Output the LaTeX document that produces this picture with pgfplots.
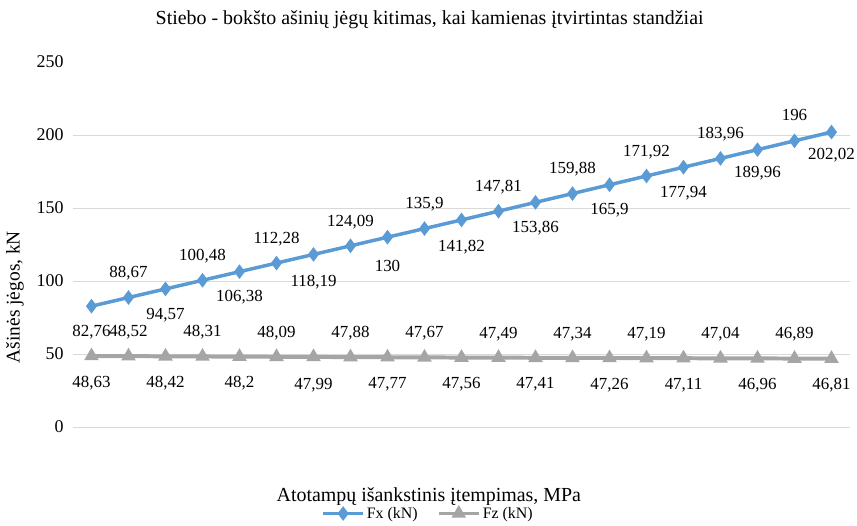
\documentclass[border=0pt]{standalone}
\usepackage{pgfplots}
\pgfplotsset{compat=1.18}
\usepackage{pgfplotstable}
\usepackage{fontspec}
\setmainfont{Liberation Serif}
\usetikzlibrary{calc}

\definecolor{fxblue}{RGB}{91,155,213}
\definecolor{fzgray}{RGB}{165,165,165}
\definecolor{gridgray}{RGB}{217,217,217}

% idx, value, label text, vertical label offset (pt)
\pgfplotstableread{
idx fx    fxl    fxd fz    fzl   fzd
0   82.76 82,76  -26 48.63 48,63 -27
1   88.67 88,67  24  48.52 48,52 24
2   94.57 94,57  -26 48.42 48,42 -27
3   100.48 100,48 24 48.31 48,31 24
4   106.38 106,38 -26 48.20 48,2 -27
5   112.28 112,28 24 48.09 48,09 24
6   118.19 118,19 -28 47.99 47,99 -28
7   124.09 124,09 24 47.88 47,88 24
8   130.00 130    -29 47.77 47,77 -27
9   135.90 135,9  24 47.67 47,67 24
10  141.82 141,82 -27 47.56 47,56 -27
11  147.81 147,81 24 47.49 47,49 24
12  153.86 153,86 -26 47.41 47,41 -27
13  159.88 159,88 24 47.34 47,34 24
14  165.90 165,9  -26 47.26 47,26 -27
15  171.92 171,92 24 47.19 47,19 24
16  177.94 177,94 -26 47.11 47,11 -27
17  183.96 183,96 24 47.04 47,04 24
18  189.96 189,96 -24 46.96 46,96 -27
19  196.00 196    26 46.89 46,89 24
20  202.02 202,02 -23 46.81 46,81 -27
}\data

\begin{document}
\begin{tikzpicture}
\begin{axis}[
  scale only axis,
  width=777bp, height=365bp,
  xmin=-0.5, xmax=20.5,
  ymin=0, ymax=250,
  xtick=\empty,
  ytick={0,50,...,200},
  extra y ticks={250},
  extra y tick style={grid=none},
  ymajorgrids,
  grid style={gridgray, line width=0.8pt},
  axis line style={draw=none},
  major tick length=0pt,
  /pgf/number format/assume math mode=true,
  tick label style={font=\fontsize{18}{20}\selectfont},
  yticklabel style={xshift=-6bp},
  every axis title shift=0pt,
  title={Stiebo - bokšto ašinių jėgų kitimas, kai kamienas įtvirtintas standžiai},
  title style={at={(axis description cs:0.459,1.115)}, anchor=center, font=\fontsize{20}{24}\selectfont},
  xlabel={Atotampų išankstinis įtempimas, MPa},
  xlabel style={at={(axis description cs:0.458,-0.19)}, anchor=center, font=\fontsize{20}{24}\selectfont},
  ylabel={Ašinės jėgos, kN},
  ylabel style={at={(axis description cs:-0.0746,0.356)}, anchor=center, font=\fontsize{19.5}{23}\selectfont},
  legend style={at={(0.457,-0.237)}, anchor=center, draw=none, legend columns=2,
    font=\fontsize{16}{18}\selectfont, inner sep=0pt,
    /tikz/every even column/.append style={column sep=17bp}},
  legend image code/.code={\draw[#1, mark repeat=2, mark phase=2]
    plot coordinates {(0bp,0bp) (20bp,0bp) (40bp,0bp)};},
  nodes near coords,
  point meta=explicit symbolic,
  nodes near coords style={font=\fontsize{17}{19}\selectfont, text=black, anchor=center, yshift=\ldy pt},
]
\coordinate (bl) at (rel axis cs:0,0);
\coordinate (tr) at (rel axis cs:1,1);

\addplot[fxblue, line width=3.5pt, mark=diamond*, mark size=4.5pt,
  visualization depends on={\thisrow{fxd} \as \ldy}]
  table[x=idx, y=fx, meta=fxl] {\data};
\addlegendentry{Fx (kN)}

\addplot[fzgray, line width=4pt, mark=triangle*, mark size=4.5pt,
  visualization depends on={\thisrow{fzd} \as \ldy}]
  table[x=idx, y=fz, meta=fzl] {\data};
\addlegendentry{Fz (kN)}
\end{axis}
\pgfresetboundingbox
\path ($(bl)+(-73bp,-99bp)$) rectangle ($(tr)+(7bp,62bp)$);
\end{tikzpicture}
\end{document}
